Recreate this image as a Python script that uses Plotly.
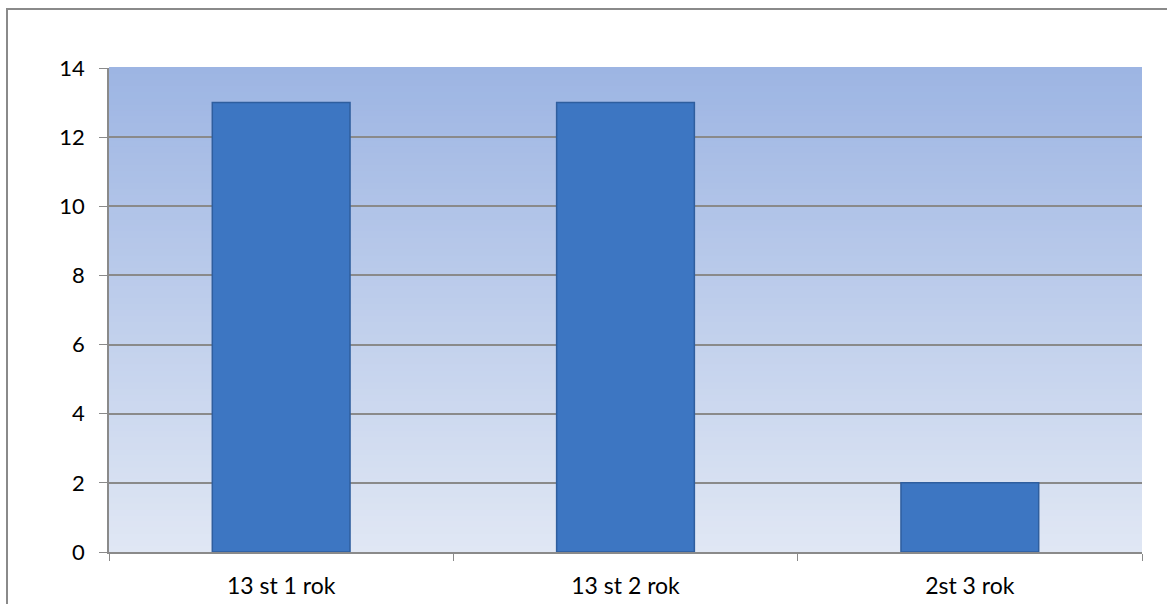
import plotly.graph_objects as go

categories = ["13 st 1 rok", "13 st 2 rok", "2st 3 rok"]
values = [13, 13, 2]
y_ticks = [0, 2, 4, 6, 8, 10, 12, 14]

W, H = 1167, 604
L, R, T, B = 109, 25, 68, 52

fig = go.Figure()
fig.add_trace(go.Bar(
    x=categories, y=values,
    marker=dict(color="#3D76C2", line=dict(color="#2F5E9E", width=1.5)),
    width=0.4,
))

# gradient plot background
n = 80
top = (157, 181, 227)
bot = (224, 231, 244)
shapes = []
for i in range(n):
    t = i / (n - 1)
    c = tuple(round(bot[k] + (top[k] - bot[k]) * t) for k in range(3))
    shapes.append(dict(type="rect", xref="paper", yref="paper",
                       x0=0, x1=1, y0=i / n, y1=(i + 1) / n + 0.002,
                       fillcolor="rgb(%d,%d,%d)" % c, line=dict(width=0),
                       layer="below"))
# outer chart border
pw, ph = W - L - R, H - T - B
shapes.append(dict(type="rect", xref="paper", yref="paper",
                   x0=(7 - L) / pw, x1=(W + 10 - L) / pw,
                   y0=-(B + 10) / ph, y1=(H - B - 9) / ph,
                   line=dict(color="#8A8A8A", width=2), fillcolor="rgba(0,0,0,0)",
                   layer="below"))

fig.update_layout(
    width=W, height=H,
    margin=dict(l=L, r=R, t=T, b=B, autoexpand=False),
    paper_bgcolor="white", plot_bgcolor="rgba(0,0,0,0)",
    shapes=shapes,
    showlegend=False,
    font=dict(family="Lato", size=23, color="black"),
    xaxis=dict(type="category", tickson="boundaries", ticks="outside", ticklen=7,
               tickcolor="#8A8A8A", showline=True, linecolor="#8A8A8A", linewidth=1.5,
               showgrid=False, tickfont=dict(family="Lato", size=23, color="black"),
               ticklabelstandoff=13, automargin=False),
    yaxis=dict(range=[0, 14], tickvals=y_ticks, ticks="outside", ticklen=8,
               tickcolor="#8A8A8A", showline=True, linecolor="#8A8A8A", linewidth=1.5,
               showgrid=True, gridcolor="#8A8A8A", gridwidth=1.5, zeroline=False,
               tickfont=dict(family="Lato", size=22, color="black"),
               ticklabelstandoff=10, automargin=False),
)

fig.write_html("out.html")
